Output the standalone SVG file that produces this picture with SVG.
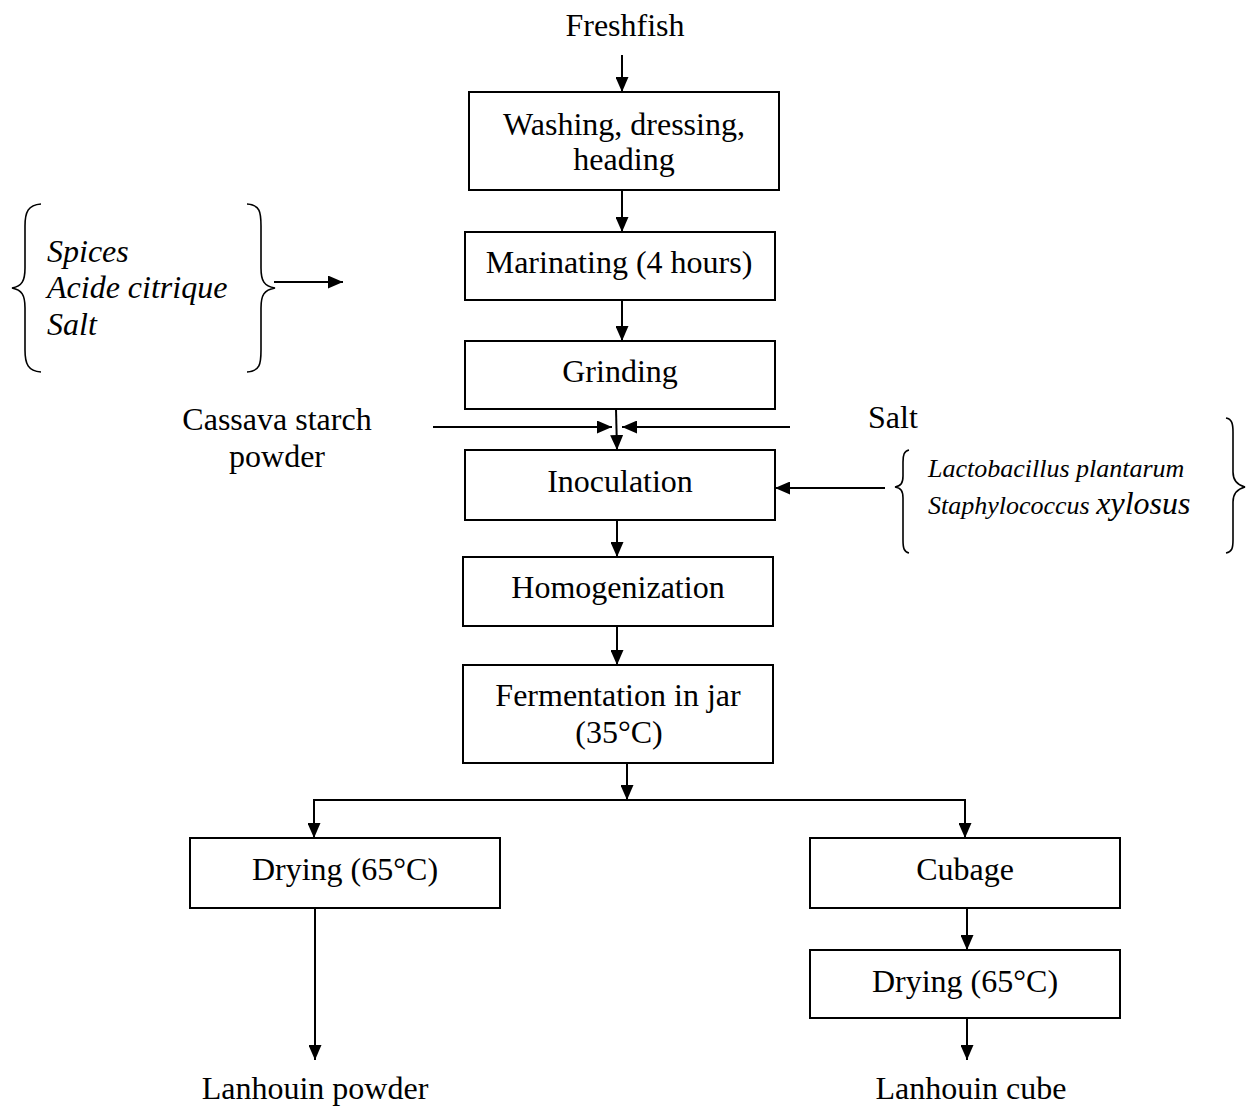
<svg xmlns="http://www.w3.org/2000/svg" width="1247" height="1109" viewBox="0 0 1247 1109">
<style>
.box{fill:#fff;stroke:#000;stroke-width:2}
.t{font-family:"Liberation Serif","Times New Roman",serif;font-size:32px;fill:#000}
.c{text-anchor:middle}
.i{font-style:italic}
.s{font-size:26px}
.ln{stroke:#000;stroke-width:2;fill:none}
.br{stroke:#000;stroke-width:1.6;fill:none}
</style>
<defs>
<marker id="ah" markerUnits="userSpaceOnUse" markerWidth="15" markerHeight="13" refX="15" refY="6.5" orient="auto">
<path d="M0,0 L15,6.5 L0,13 Z" fill="#000"/>
</marker>
</defs>
<rect width="1247" height="1109" fill="#fff"/>
<g id="connectors">
<line class="ln" x1="622" y1="55" x2="622" y2="92" marker-end="url(#ah)"/>
<line class="ln" x1="622" y1="190" x2="622" y2="232" marker-end="url(#ah)"/>
<line class="ln" x1="622" y1="300" x2="622" y2="341" marker-end="url(#ah)"/>
<line class="ln" x1="616" y1="409" x2="617" y2="450" marker-end="url(#ah)"/>
<line class="ln" x1="274" y1="282" x2="343" y2="282" marker-end="url(#ah)"/>
<line class="ln" x1="433" y1="427" x2="612" y2="427" marker-end="url(#ah)"/>
<line class="ln" x1="790" y1="427" x2="622" y2="427" marker-end="url(#ah)"/>
<line class="ln" x1="885" y1="488" x2="775" y2="488" marker-end="url(#ah)"/>
<line class="ln" x1="617" y1="520" x2="617" y2="557" marker-end="url(#ah)"/>
<line class="ln" x1="617" y1="626" x2="617" y2="665" marker-end="url(#ah)"/>
<line class="ln" x1="627" y1="763" x2="627" y2="800" marker-end="url(#ah)"/>
<polyline class="ln" points="314,800 965,800"/>
<line class="ln" x1="314" y1="799" x2="314" y2="838" marker-end="url(#ah)"/>
<line class="ln" x1="965" y1="799" x2="965" y2="838" marker-end="url(#ah)"/>
<line class="ln" x1="315" y1="908" x2="315" y2="1060" marker-end="url(#ah)"/>
<line class="ln" x1="967" y1="908" x2="967" y2="950" marker-end="url(#ah)"/>
<line class="ln" x1="967" y1="1018" x2="967" y2="1060" marker-end="url(#ah)"/>
</g>
<g id="freshfish"><text class="t c" x="625" y="36">Freshfish</text></g>
<g id="washing">
<rect class="box" x="469" y="92" width="310" height="98"/>
<text class="t c" x="624" y="135">Washing, dressing,</text>
<text class="t c" x="624" y="170">heading</text>
</g>
<g id="marinating">
<rect class="box" x="465" y="232" width="310" height="68"/>
<text class="t c" x="619" y="273">Marinating (4 hours)</text>
</g>
<g id="grinding">
<rect class="box" x="465" y="341" width="310" height="68"/>
<text class="t c" x="620" y="382">Grinding</text>
</g>
<g id="inoculation">
<rect class="box" x="465" y="450" width="310" height="70"/>
<text class="t c" x="620" y="492">Inoculation</text>
</g>
<g id="homogenization">
<rect class="box" x="463" y="557" width="310" height="69"/>
<text class="t c" x="618" y="598">Homogenization</text>
</g>
<g id="fermentation">
<rect class="box" x="463" y="665" width="310" height="98"/>
<text class="t c" x="618" y="706">Fermentation in jar</text>
<text class="t c" x="619" y="743">(35°C)</text>
</g>
<g id="drying-left">
<rect class="box" x="190" y="838" width="310" height="70"/>
<text class="t c" x="345" y="880">Drying (65°C)</text>
</g>
<g id="cubage">
<rect class="box" x="810" y="838" width="310" height="70"/>
<text class="t c" x="965" y="880">Cubage</text>
</g>
<g id="drying-right">
<rect class="box" x="810" y="950" width="310" height="68"/>
<text class="t c" x="965" y="992">Drying (65°C)</text>
</g>
<g id="powder"><text class="t c" x="315" y="1099">Lanhouin powder</text></g>
<g id="cube"><text class="t c" x="971" y="1099">Lanhouin cube</text></g>
<g id="marinade-inputs">
<path class="br" d="M41,204 C28,205 25,212 25,226 L25,268 C25,281 22,286 12,288 C22,290 25,295 25,308 L25,350 C25,364 28,371 41,372"/>
<path class="br" d="M247,204 C260,205 261,212 261,226 L261,268 C261,281 264,286 275,288 C264,290 261,295 261,308 L261,350 C261,364 260,371 247,372"/>
<text class="t i" x="47" y="262">Spices</text>
<text class="t i" x="47" y="298">Acide citrique</text>
<text class="t i" x="47" y="335">Salt</text>
</g>
<g id="cassava">
<text class="t c" x="277" y="430">Cassava starch</text>
<text class="t c" x="277" y="467">powder</text>
</g>
<g id="salt"><text class="t" x="868" y="428">Salt</text></g>
<g id="bacteria">
<path class="br" d="M909,450 C904,451 903,455 903,462 L903,476 C903,483 901,486 895,487 C901,488 903,491 903,498 L903,540 C903,548 904,552 909,553"/>
<path class="br" d="M1226,418 C1232,419 1233,424 1233,432 L1233,472 C1233,480 1237,485 1245,487 C1237,489 1233,494 1233,502 L1233,540 C1233,548 1232,552 1226,553"/>
<text class="t i s" x="928" y="477">Lactobacillus plantarum</text>
<text class="t i" x="928" y="514"><tspan class="s">Staphylococcus </tspan><tspan>xylosus</tspan></text>
</g>
</svg>
